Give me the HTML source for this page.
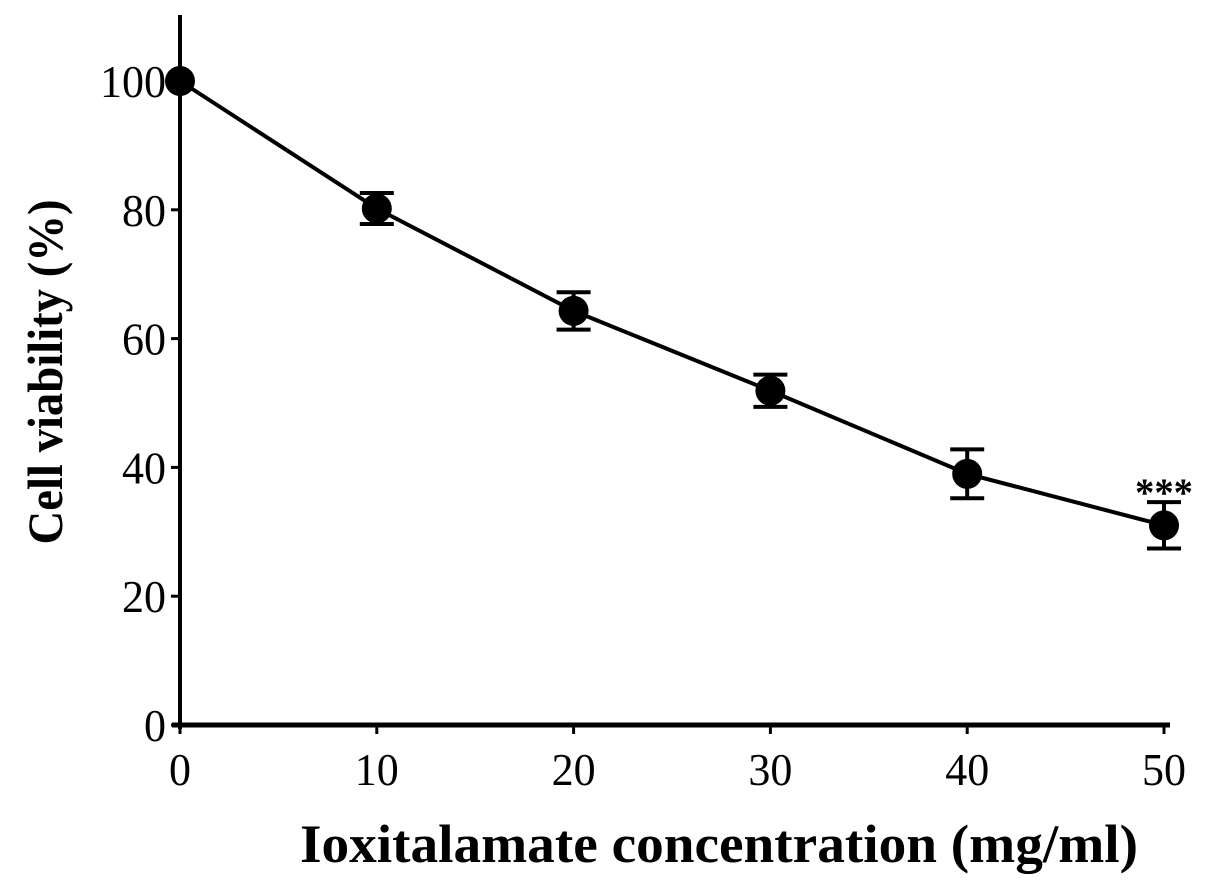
<!DOCTYPE html>
<html><head><meta charset="utf-8"><style>
body{margin:0;background:#fff}
svg{display:block}
text{font-family:"Liberation Serif",serif;fill:#000}
</style></head><body>
<svg id="chart" width="1205" height="894">
<g id="axes"></g><g id="series"></g>
</svg>
<script>
const categories=[0,10,20,30,40,50];
const viability=[100,80.2,64.3,51.9,39,31];
const errors=[0,2.4,2.9,2.5,3.8,3.6];
const yTicks=[0,20,40,60,80,100];
const xTicks=[0,10,20,30,40,50];
const NS="http://www.w3.org/2000/svg";
const xs=v=>180+v*19.68;
const ys=v=>725-v*6.44;
function mk(parent,tag,attrs,txt){const e=document.createElementNS(NS,tag);for(const k in attrs)e.setAttribute(k,attrs[k]);if(txt!==undefined)e.textContent=txt;parent.appendChild(e);return e;}
const ax=document.getElementById('axes'),se=document.getElementById('series');
let e;
e=mk(ax,'line',{x1:180,y1:15,x2:180,y2:729,stroke:'#000','stroke-width':4});


e=mk(ax,'line',{x1:172,y1:725,x2:1170,y2:725,stroke:'#000','stroke-width':5});


yTicks.forEach(t=>{
 mk(ax,'line',{x1:171,y1:ys(t),x2:180,y2:ys(t),stroke:'#000','stroke-width':3});
 e=mk(ax,'text',{x:166,y:ys(t)+16,'text-anchor':'end','font-size':46,textLength:String(t).length*22,lengthAdjust:'spacingAndGlyphs'},String(t));
 
 
});
xTicks.forEach(t=>{
 mk(ax,'line',{x1:xs(t),y1:725,x2:xs(t),y2:734,stroke:'#000','stroke-width':3});
 e=mk(ax,'text',{x:xs(t),y:785,'text-anchor':'middle','font-size':46,textLength:String(t).length*22,lengthAdjust:'spacingAndGlyphs'},String(t));
 
 
});
e=mk(ax,'text',{x:0,y:0,'text-anchor':'middle','font-size':50,'font-weight':'bold',textLength:345,lengthAdjust:'spacingAndGlyphs',transform:'translate(62,372) rotate(-90)'},'Cell viability (%)');


e=mk(ax,'text',{x:719,y:862,'text-anchor':'middle','font-size':54,'font-weight':'bold',textLength:838,lengthAdjust:'spacingAndGlyphs'},'Ioxitalamate concentration (mg/ml)');


e=mk(se,'polyline',{points:categories.map((c,i)=>xs(c)+','+ys(viability[i])).join(' '),fill:'none',stroke:'#000','stroke-width':4});


categories.forEach((c,i)=>{
 const x=xs(c),y=ys(viability[i]),d=errors[i];
 if(d>0){
  const g=mk(se,'g',{stroke:'#000','stroke-width':4});
  
  
  mk(g,'line',{x1:x,y1:ys(viability[i]+d),x2:x,y2:ys(viability[i]-d)});
  mk(g,'line',{x1:x-17,y1:ys(viability[i]+d),x2:x+17,y2:ys(viability[i]+d)});
  mk(g,'line',{x1:x-17,y1:ys(viability[i]-d),x2:x+17,y2:ys(viability[i]-d)});
 }
 e=mk(se,'circle',{cx:x,cy:y,r:15,fill:'#000'});
 
 
});
e=mk(se,'text',{x:xs(50),y:ys(viability[5]+errors[5])+4,'text-anchor':'middle','font-size':40,'font-weight':'bold',textLength:58,lengthAdjust:'spacingAndGlyphs'},'***');


</script>
</body></html>
